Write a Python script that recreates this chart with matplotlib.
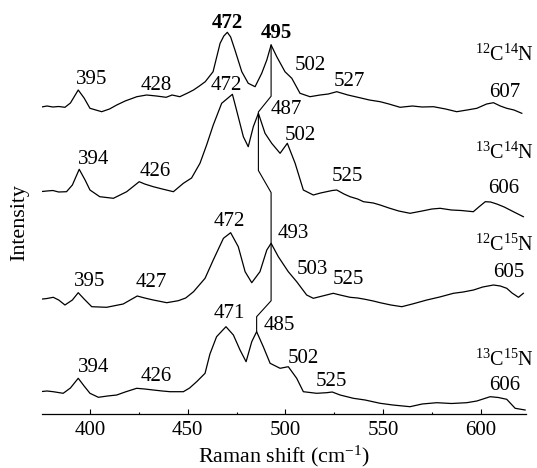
import numpy as np
import matplotlib
matplotlib.use("Agg")
import matplotlib.pyplot as plt

plt.rcParams['font.family'] = ['Liberation Serif', 'DejaVu Serif']
plt.rcParams['mathtext.fontset'] = 'custom'
plt.rcParams['mathtext.rm'] = 'Liberation Serif'
plt.rcParams['mathtext.it'] = 'Liberation Serif:italic'

# spectra (wavenumber, relative intensity)
cn_12_14_x = [374.4, 378, 381, 384, 387.2, 390, 394, 397, 400, 406, 410, 413.7, 418, 424,
              429, 434, 439, 442, 446, 450, 453, 456, 459, 463, 466.6, 468.5, 470.3, 472,
              474.2, 477.7, 481, 484.5, 487.9, 490.5, 492.7, 495.6, 499.8, 503.3, 507.5,
              512.6, 517.8, 522, 526.3, 532, 538, 543, 548.5, 553, 558.7, 565, 570, 575.8,
              582, 587.7, 593, 598, 603, 606.5, 610, 613.3, 617, 621]
cn_12_14_y = [6.7, 8, 7, 7.5, 6.7, 11, 24, 16, 5.7, 2.3, 5, 9, 13, 17.3,
              19, 18, 16.7, 19, 17.3, 21, 24, 28, 32.3, 42.3, 70.7, 78, 81.7, 77,
              64, 42.3, 30.7, 27.3, 40.7, 54, 69, 57.3, 42.3, 35.7, 20.7,
              17.3, 19, 20, 22.3, 19, 16.3, 14, 12.3, 10, 6.7, 8, 7, 7.3,
              5, 2.3, 4, 5.7, 10, 11.3, 8, 5.7, 4, 0.7]

cn_13_14_x = [374.4, 378, 381, 384, 388, 391, 394.5, 397.5, 400, 405, 412, 418.8, 425.2,
              428, 432.4, 437, 442.7, 447.8, 452, 456.3, 459.7, 463.1, 467.4, 472.9, 475,
              478.5, 481, 483.6, 486.2, 489.6, 493, 497.3, 501, 505, 509.2, 514.3, 518,
              521.1, 524, 526.3, 530, 533.1, 537, 540, 545, 548.5, 553, 558, 563.8, 570,
              575, 579.2, 585, 590, 596.2, 599, 602.3, 605, 608.2, 612, 616.7, 621.8]
cn_13_14_y = [26.3, 27, 27.5, 26, 26.3, 33, 48.7, 38, 28, 21.3, 19.7, 26.3, 36.3,
              34, 31.3, 29, 26.3, 34.7, 40, 54.7, 73, 93, 114.7, 123.7, 108,
              81.3, 71.3, 91.3, 104.7, 84.7, 74.7, 64.7, 74.7, 54.7, 28, 23, 25,
              26.3, 27.5, 28, 24, 21.3, 19, 16.3, 15, 13, 10, 7, 4.7, 7,
              9, 9.7, 8, 7.5, 6.3, 11, 16.3, 16, 14, 11, 6.3, 1.3]

cn_12_15_x = [374.4, 378, 381.2, 384, 387.2, 391, 394, 397, 400.9, 408.5, 417, 424.2,
              428, 432.4, 439.3, 445.2, 449, 453, 458.9, 463.1, 468.3, 472, 475.9, 479.4,
              482.8, 487, 490.5, 492.7, 496.4, 501.5, 505.8, 510.9, 514.3, 519, 524.5,
              528, 533.1, 537, 540.8, 545, 548.5, 554, 559.6, 565, 572.4, 579, 586, 591,
              596.3, 601, 606.5, 610, 613.3, 616, 619.3, 621.8]
cn_12_15_y = [14.7, 15.5, 16.7, 14, 9, 14, 21.3, 15, 7.3, 6.7, 10, 18,
              16, 14, 11.3, 13.3, 16, 22.3, 35.7, 54, 75.7, 81.3, 67.3, 42.3,
              31.3, 42.3, 64, 70.7, 57.3, 42.3, 32.3, 19, 15.7, 18, 20.7,
              19, 16.7, 16, 14.7, 13, 11.3, 9, 7.3, 10, 14, 17, 20.7, 22,
              24, 27, 29, 28, 25.7, 21, 16.7, 20.7]

cn_13_15_x = [374.4, 378, 381.2, 386.3, 390, 394, 397, 400, 404.3, 409, 413.7, 418, 423.9,
              428, 432.4, 437, 441, 447.8, 451, 454.6, 458.9, 461.4, 464.8, 469.6, 473.4,
              476.8, 479.9, 482.8, 485.3, 488.7, 492.2, 497.3, 501.5, 505.8, 509.2, 516,
              521.1, 524, 528, 534.8, 540.8, 548.5, 555, 563.8, 570, 577.5, 585, 592.8,
              598, 604.8, 609, 613.3, 617.6, 622.7]
cn_13_15_y = [22.3, 23, 22.3, 20.7, 26, 35.7, 28, 20.7, 16.7, 18, 19, 22, 25.7,
              25, 24, 23, 22.3, 22.3, 26, 32.3, 40.7, 60, 77.3, 87.3, 79,
              64, 52.3, 72.3, 82.3, 67.3, 50.7, 45.7, 47.3, 35.7, 22.3, 20.7,
              21.3, 22, 19, 15.7, 14, 10.7, 9, 7.3, 10, 11.3, 10.5, 11.3,
              13, 17.3, 16.5, 14.7, 5.7, 4]

names = [r'$^{12}$C$^{14}$N', r'$^{13}$C$^{14}$N', r'$^{12}$C$^{15}$N', r'$^{13}$C$^{15}$N']
offsets = [300, 196, 100, 0]

# peak labels: (text, x, y relative to trace offset)
peak_labels = [
    [('395', 400.9, 34), ('428', 434.1, 29), ('472', 470.5, 90.7), ('495', 495.6, 80.7),
     ('502', 512.6, 49), ('527', 532.8, 33), ('607', 612.5, 21.3)],
    [('472', 470, 133), ('394', 401.7, 58.7), ('426', 433.3, 46.3), ('487', 500.7, 108),
     ('502', 507.9, 83), ('525', 531.8, 41.3), ('606', 611.6, 29.7)],
    [('472', 471.3, 92.3), ('493', 504.1, 80.7), ('395', 399.7, 33), ('427', 431.6, 31.3),
     ('503', 514, 44.7), ('525', 532.5, 34.7), ('605', 614.2, 41.3)],
    [('471', 471.3, 100), ('485', 496.9, 89), ('394', 401.7, 46.3), ('426', 434.1, 37.3),
     ('502', 509.2, 55.7), ('525', 523.8, 33), ('606', 612.5, 28)],
]
bold_labels = [(0, '472'), (0, '495')]
name_pos = [(612, 59), (612, 64.7), (612, 69), (612, 54)]

# CN band shift followed from spectrum to spectrum
shift_peaks = [492.7, 486.2, 492.7, 485.3]
knee_frac = [(0.75, 0.98), (0.44, 0.61), (0.65, 0.83)]

traces = [(cn_12_14_x, cn_12_14_y), (cn_13_14_x, cn_13_14_y),
          (cn_12_15_x, cn_12_15_y), (cn_13_15_x, cn_13_15_y)]

fig = plt.figure(figsize=(5.37, 4.68), dpi=100)
ax = fig.add_axes([41.7 / 537, 54 / 468, 484 / 537, 414 / 468])

fs = 15
for i, (x, y) in enumerate(traces):
    ax.plot(x, np.array(y) + offsets[i], color='black', lw=0.9)
    for txt, lx, ly in peak_labels[i]:
        fw = 'bold' if (i, txt) in bold_labels else 'normal'
        ax.text(lx, ly + offsets[i], txt, ha='center', va='center', fontsize=fs, fontweight=fw)
    ax.text(name_pos[i][0], name_pos[i][1] + offsets[i], names[i], ha='center', va='center',
            fontsize=fs - 0.5)

# connector line through the shifted peaks
peak_y = [np.interp(shift_peaks[i], traces[i][0], traces[i][1]) + offsets[i] for i in range(4)]
cx = [shift_peaks[0]]
cy = [peak_y[0]]
for i in range(3):
    ya, yb = peak_y[i], peak_y[i + 1]
    f1, f2 = knee_frac[i]
    cx += [shift_peaks[i], shift_peaks[i + 1], shift_peaks[i + 1]]
    cy += [ya - f1 * (ya - yb), ya - f2 * (ya - yb), yb]
ax.plot(cx, cy, color='black', lw=0.8)

ax.set_xlim(375.3, 623)
ax.set_ylim(0, 414)
ax.set_xticks([400, 450, 500, 550, 600])
ax.set_xticks([425, 475, 525, 575], minor=True)
ax.tick_params(axis='x', which='major', direction='in', length=3.5, width=0.8, labelsize=fs, pad=5)
ax.tick_params(axis='x', which='minor', direction='in', length=1.8, width=0.8)
ax.set_yticks([])
for s in ['top', 'left', 'right']:
    ax.spines[s].set_visible(False)
ax.spines['bottom'].set_linewidth(0.9)
ax.set_xlabel('Raman shift (cm$^{-1}$)', fontsize=fs + 0.8, labelpad=3)
fig.text(20 / 537, 1 - 223 / 468, 'Intensity', rotation=90, ha='center', va='center', fontsize=fs + 0.8)

fig.savefig('out.png', dpi=100)
